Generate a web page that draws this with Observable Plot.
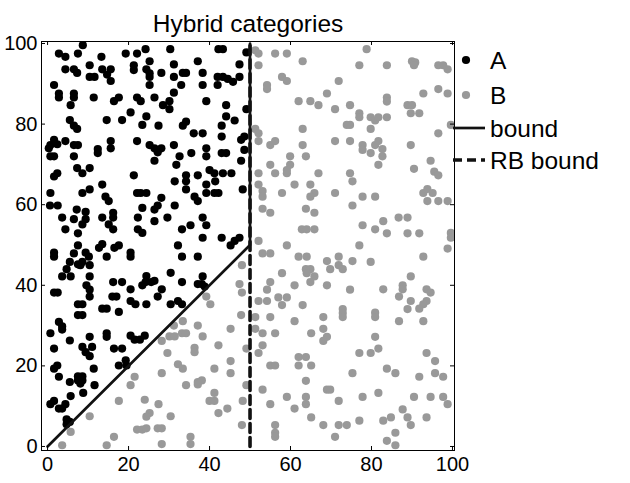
<!DOCTYPE html>
<html><head><meta charset="utf-8">
<script src="https://cdn.jsdelivr.net/npm/d3@7"></script>
<script src="https://cdn.jsdelivr.net/npm/@observablehq/plot@0.6"></script>
<style>body{margin:0;background:#fff;font-family:"Liberation Sans",Arial,Helvetica,sans-serif}</style>
</head><body><div id="chart"></div>
<script>
const title = "Hybrid categories";
const xTicks = [0, 20, 40, 60, 80, 100];
const yTicks = [0, 20, 40, 60, 80, 100];
const legendLabels = ["A", "B", "bound", "RB bound"];

// category A (black)
const classA = [
[8.7,99.6],[2.8,97.5],[4.4,96.7],[7.5,97.5],[13.3,96.7],[19.3,97.5],[22.1,97.5],[24.2,98.6],[4.4,93.6],[6.5,93.6],[7.3,92.7],[10.4,94.6],[13.5,93.6],[15.6,93.6],[14.7,92.3],[15.6,90.7],[10.4,91.7],[11.6,91.7],[21.3,94.6],[21.3,93.4],[1.6,89.7],[2.8,87.6],[2.8,86.6],[6.5,87.6],[6.5,86.6],[5.7,84.7],[11.4,86.6],[16.4,85.7],[17.6,86.6],[22.1,86.6],[23.0,85.7],[20.5,82.9],[5.5,81.0],[6.5,79.6],[7.3,78.8],[14.6,81.0],[18.4,81.0],[23.4,79.8],[1.6,76.1],[0.7,74.8],[2.4,75.0],[4.4,75.8],[6.5,74.8],[7.5,74.8],[0.3,74.0],[0.7,72.0],[1.6,72.0],[6.5,72.0],[12.4,73.8],[12.4,72.8],[15.6,75.8],[15.6,74.0],[22.1,75.8],[7.3,69.1],[8.6,67.8],[10.4,69.1],[2.4,67.8],[1.6,67.0],[21.3,67.3],
[30.3,98.6],[42.2,98.6],[43.3,98.6],[49.1,97.8],[25.2,95.6],[24.4,93.6],[25.2,92.6],[25.2,91.7],[37.1,95.6],[31.2,94.8],[28.1,92.7],[31.2,91.7],[33.4,92.7],[34.2,92.7],[38.3,92.7],[47.4,94.8],[42.0,91.7],[43.3,91.7],[44.5,91.2],[45.8,90.5],[47.4,91.7],[25.2,89.7],[33.0,89.7],[38.3,89.7],[42.0,89.7],[31.2,87.8],[26.4,86.6],[30.1,85.7],[28.5,84.7],[30.1,83.7],[39.2,85.7],[44.1,84.7],[49.1,83.7],[24.4,81.9],[27.4,79.6],[33.4,79.6],[34.2,80.6],[44.1,81.9],[46.2,80.9],[43.0,79.6],[36.1,77.7],[38.3,77.7],[43.0,76.9],[48.6,76.9],[47.8,76.1],[25.2,74.8],[26.4,74.0],[28.1,74.0],[27.2,73.0],[31.2,74.8],[35.5,72.8],[39.2,74.0],[39.2,72.0],[43.0,72.8],[44.1,72.8],[48.6,73.6],[32.6,72.0],[31.8,69.9],[26.4,70.9],[47.8,70.9],[40.0,68.6],[41.2,67.8],[43.3,67.8],[45.4,67.8],[34.2,67.3],[37.1,67.3],
[13.5,65.0],[0.7,62.9],[8.6,62.9],[10.4,63.8],[14.3,62.0],[15.1,60.9],[22.1,62.9],[23.0,62.9],[0.6,59.8],[2.5,59.8],[3.6,56.8],[7.2,58.8],[6.5,56.4],[9.4,58.2],[9.4,56.4],[8.6,55.1],[13.5,56.8],[16.2,58.0],[16.2,56.8],[15.1,55.1],[16.2,53.9],[4.4,53.9],[7.5,52.9],[22.3,56.8],[22.3,53.9],[23.4,53.0],[23.4,59.2],[1.6,48.1],[1.6,47.1],[7.5,49.9],[6.5,47.9],[9.4,48.1],[10.2,47.1],[12.7,49.3],[13.5,50.2],[14.6,47.1],[16.5,49.3],[17.6,49.9],[20.5,48.1],[20.5,47.1],[5.5,45.8],[7.5,45.2],[8.6,45.8],[10.4,45.0],[8.1,45.0],[4.7,44.0],[3.6,42.2],[5.7,42.2],[10.4,42.2],[9.6,40.0],[10.4,38.9],[10.4,37.2],[16.2,40.8],[18.4,40.8],[20.5,39.0],[23.4,40.0],[24.2,40.8],[1.6,38.2],[2.5,38.2],[16.0,37.2],[17.0,37.2],[20.5,36.1],[21.7,35.3],[7.5,35.3],[8.6,35.3],[13.5,34.2],[14.6,34.2],[17.6,33.4],[7.5,32.6],[8.6,32.6],
[31.4,65.8],[34.2,65.8],[34.2,63.8],[39.2,65.0],[39.2,62.9],[41.2,62.9],[42.2,62.9],[41.4,65.8],[48.2,63.8],[24.4,62.9],[28.1,61.7],[36.3,62.0],[37.1,60.9],[27.2,59.8],[26.4,58.8],[31.4,59.8],[26.4,55.9],[29.6,56.8],[38.3,56.8],[39.2,54.9],[35.3,54.9],[33.2,53.9],[38.3,51.8],[43.0,51.8],[47.4,51.8],[46.2,51.0],[45.2,49.9],[32.2,49.9],[33.2,47.1],[37.1,47.1],[25.6,40.8],[26.4,41.1],[24.4,42.3],[30.4,43.1],[33.2,40.8],[38.3,42.2],[37.1,40.3],[38.1,40.3],[38.8,39.7],[28.2,39.0],[27.2,37.2],[24.4,35.3],[30.4,35.3],[32.2,36.1],[33.2,35.3],
[2.8,30.9],[3.6,29.8],[3.6,29.0],[0.7,28.1],[14.6,28.1],[14.6,27.2],[10.4,27.2],[5.5,26.3],[8.6,24.7],[9.4,23.4],[10.4,22.4],[11.0,24.7],[16.4,24.3],[18.4,24.3],[20.5,27.5],[21.5,26.5],[22.8,26.5],[24.0,27.5],[1.6,24.3],[2.4,20.1],[1.6,19.3],[2.8,17.3],[11.4,19.3],[17.6,20.1],[19.3,21.4],[19.5,20.1],[7.5,17.4],[8.6,17.4],[7.5,16.4],[8.6,16.4],[8.1,15.6],[5.5,16.0],[11.6,15.2],[8.8,13.3],[5.7,12.5],[1.6,11.3],[0.7,10.5],[2.8,9.4],[3.6,9.4],[4.4,10.5],[4.7,6.7],[5.5,6.1],[4.7,5.5]
];

// category B (grey)
const classB = [
[51.3,98.3],[52.1,97.5],[56.2,97.5],[59.1,97.5],[63.0,95.6],[52.1,94.6],[57.9,91.7],[59.1,90.7],[71.9,90.7],[54.2,89.7],[54.2,88.7],[69.0,87.6],[62.0,85.7],[64.9,85.7],[66.9,84.7],[71.0,83.7],[74.7,84.7],[51.3,78.8],[52.1,77.7],[63.0,78.8],[73.9,79.8],[74.7,79.8],[52.1,75.8],[55.0,74.8],[56.2,75.8],[63.0,74.8],[71.0,75.8],[74.7,75.8],[59.9,72.0],[63.8,72.0],[55.0,69.9],[59.9,69.9],[59.1,68.6],[59.1,67.8],[52.1,67.8],[56.2,67.8],[66.9,67.8],[74.7,67.8],
[78.8,98.6],[77.0,94.6],[83.8,94.6],[90.0,95.6],[90.8,95.3],[90.5,94.6],[96.5,94.6],[97.7,94.6],[98.8,93.6],[92.8,87.6],[96.5,88.7],[98.8,87.6],[83.8,86.6],[83.8,85.6],[88.9,84.7],[90.0,84.7],[89.7,82.7],[91.8,82.7],[77.0,82.7],[77.0,81.7],[79.8,81.7],[80.9,80.9],[81.7,81.7],[83.8,81.7],[79.8,78.8],[99.6,79.8],[96.5,77.7],[77.8,74.8],[77.8,73.6],[80.9,74.8],[81.7,75.8],[82.7,73.8],[79.8,72.8],[82.7,72.0],[89.7,74.8],[81.7,69.9],[90.5,68.9],[94.6,70.9],[95.5,68.2],[96.5,67.3],
[48.0,45.0],[47.4,40.3],[48.0,38.2],[39.2,37.2],[40.2,35.3],[47.8,32.6],
[52.1,65.0],[53.1,63.4],[53.1,62.0],[57.9,62.9],[61.0,65.0],[64.9,65.0],[65.9,62.9],[64.9,62.0],[71.0,62.9],[75.3,65.8],[53.1,59.0],[55.0,58.0],[63.8,59.0],[65.9,58.0],[75.3,59.8],[62.8,53.9],[64.0,53.9],[65.9,53.9],[52.1,51.0],[59.1,49.9],[53.1,47.9],[55.0,47.9],[62.0,47.1],[64.0,47.1],[71.9,47.1],[69.0,46.0],[69.8,44.0],[71.9,45.0],[72.9,44.0],[75.3,46.0],[57.9,43.0],[63.8,44.0],[64.9,44.0],[64.0,43.0],[65.9,42.2],[64.9,40.8],[55.0,40.8],[54.2,38.9],[61.0,40.0],[69.0,40.0],[74.7,38.9],[52.1,36.1],[54.2,36.1],[57.0,37.0],[59.1,37.0],[57.9,35.1],[63.0,35.1],[72.9,34.1],[72.9,33.1],
[92.8,62.9],[93.8,63.9],[95.1,62.9],[93.8,60.9],[96.5,60.9],[98.8,60.9],[77.8,62.0],[80.9,62.0],[86.7,56.8],[88.9,56.8],[82.9,55.9],[77.8,54.9],[80.9,53.9],[83.8,52.9],[88.9,52.9],[91.8,52.9],[99.6,53.0],[99.6,51.8],[98.8,49.1],[77.0,49.9],[92.8,47.1],[79.8,45.8],[89.7,42.2],[87.7,40.0],[87.7,39.0],[86.8,37.2],[82.9,39.0],[93.6,39.0],[94.6,38.2],[89.7,36.1],[93.6,36.1],[92.8,35.3],[91.8,34.2],[88.9,34.1],[80.9,33.2],
[21.5,17.3],[20.5,15.2],[17.6,11.3],[24.0,11.6],[10.4,7.5],[22.1,4.2],[23.4,4.2],[5.7,3.6],[16.4,2.4],[3.6,0.3],[14.6,0.3],
[31.2,30.0],[33.4,31.1],[37.1,30.0],[45.2,29.2],[30.1,27.3],[31.4,27.3],[33.2,28.1],[34.2,28.1],[28.2,26.2],[38.3,27.3],[36.3,24.5],[36.3,23.4],[29.6,23.2],[42.2,25.1],[49.1,24.3],[32.2,20.4],[33.4,19.3],[45.2,21.2],[45.2,18.2],[41.2,19.3],[28.2,18.2],[37.1,16.0],[38.1,16.4],[37.1,15.4],[34.2,15.2],[49.1,15.2],[41.2,13.3],[40.0,11.3],[41.2,11.3],[27.4,10.5],[44.4,9.4],[42.2,8.3],[48.2,11.3],[25.2,8.3],[24.4,7.4],[30.4,7.5],[24.4,4.5],[27.2,4.5],[28.2,4.5],[48.0,5.3],[35.3,2.4],[35.3,0.6],[28.2,0.6],
[51.3,32.1],[55.0,32.1],[61.0,31.1],[68.1,32.1],[72.9,32.1],[51.3,29.2],[53.1,28.1],[56.2,28.1],[65.1,28.1],[68.1,29.2],[69.0,27.2],[68.1,26.2],[53.1,25.1],[52.1,23.2],[62.0,22.2],[63.8,22.2],[55.0,20.1],[56.2,20.1],[62.0,20.1],[65.1,20.1],[75.3,18.2],[63.8,16.3],[53.1,14.1],[69.0,14.1],[69.8,14.1],[59.1,12.3],[63.8,12.3],[63.8,10.5],[55.0,10.5],[61.0,9.4],[71.9,11.3],[65.1,7.2],[56.2,5.3],[56.2,3.4],[56.2,2.4],[68.1,5.3],[71.9,5.3],[73.9,5.3],[71.0,2.4],
[80.9,32.1],[86.8,31.1],[92.8,31.1],[80.9,27.2],[77.0,23.2],[79.8,23.2],[81.7,24.3],[93.6,23.2],[95.7,21.2],[83.8,19.3],[85.9,18.2],[91.8,17.3],[95.7,18.2],[97.7,17.3],[77.8,12.3],[81.7,13.3],[90.5,12.3],[94.6,12.3],[97.7,12.3],[98.8,10.5],[87.7,9.2],[88.9,7.2],[89.7,5.3],[93.6,7.2],[77.0,6.4],[82.9,6.4],[84.8,7.2],[85.9,3.4],[83.8,1.4],[85.9,0.3]
];

// decision bounds
const boundX = [0, 50, 50];
const boundY = [0, 50, 100];
const rbX = [50, 50];
const rbY = [0, 100];

const colA = "#000000", colB = "#999999";
const W = 630, H = 483, mL = 41, mR = 176, mT = 41, mB = 33;
const fw = W - mL - mR, fh = H - mT - mB;
const font = "'Liberation Sans', Arial, Helvetica, sans-serif";
const dotR = 4.1;

const bound = boundX.map((x, i) => ({x, y: boundY[i]}));
const rb = rbX.map((x, i) => ({x, y: rbY[i]}));

const svg = Plot.plot({
  width: W, height: H,
  marginLeft: mL, marginRight: mR, marginTop: mT, marginBottom: mB,
  style: {fontFamily: font, fontSize: "20px", color: "#000", background: "#fff", overflow: "visible"},
  x: {domain: [-1.5, 100.5]},
  y: {domain: [-1, 100.5]},
  marks: [
    Plot.dot(classA, {x: d => d[0], y: d => d[1], r: dotR, fill: colA, stroke: "none"}),
    Plot.dot(classB, {x: d => d[0], y: d => d[1], r: dotR, fill: colB, stroke: "none"}),
    Plot.line(rb, {x: "x", y: "y", stroke: "#111", strokeWidth: 3.6, strokeDasharray: "9,5"}),
    Plot.line(bound, {x: "x", y: "y", stroke: "#111", strokeWidth: 2.7}),
    Plot.frame({stroke: "#000", strokeWidth: 1}),
    Plot.tickX(xTicks, {x: d => d, insetTop: fh - 4, stroke: "#000"}),
    Plot.tickX(xTicks, {x: d => d, insetBottom: fh - 4, stroke: "#000"}),
    Plot.tickY(yTicks, {y: d => d, insetRight: fw - 4, stroke: "#000"}),
    Plot.tickY(yTicks, {y: d => d, insetLeft: fw - 4, stroke: "#000"}),
    Plot.axisX(xTicks, {tickSize: 0, tickPadding: 6, label: null, fontSize: 20}),
    Plot.axisY(yTicks, {tickSize: 0, tickPadding: 4, label: null, fontSize: 20}),
    Plot.text([title], {frameAnchor: "top", dy: -27, fontSize: 24.5, fill: "#000"})
  ]
});

// legend
const lg = d3.select(svg).append("g").attr("font-family", font).attr("font-size", 24.5).attr("text-anchor", "start");
const legY = [60, 95, 128, 160];
legendLabels.forEach((lab, i) => {
  const y = legY[i];
  if (i === 0 || i === 1) {
    lg.append("circle").attr("cx", 466).attr("cy", y).attr("r", dotR).attr("fill", i === 0 ? colA : colB);
  } else {
    lg.append("line").attr("x1", 453).attr("x2", 485).attr("y1", y).attr("y2", y)
      .attr("stroke", "#111").attr("stroke-width", i === 2 ? 2.7 : 3.6)
      .attr("stroke-dasharray", i === 3 ? "9,5" : null);
  }
  lg.append("text").attr("x", 490).attr("y", y).attr("dy", "0.35em").attr("text-anchor", "start").attr("fill", "#000").text(lab);
});

document.getElementById("chart").appendChild(svg);
</script>
</body></html>
